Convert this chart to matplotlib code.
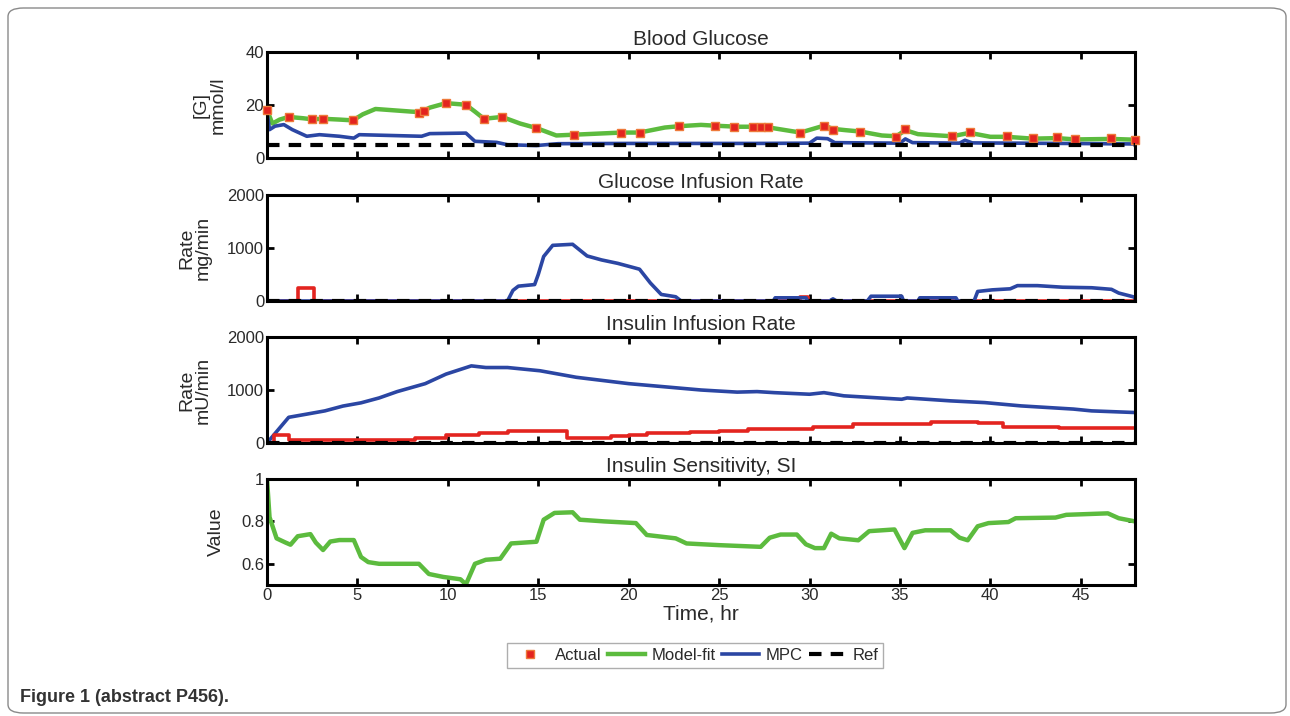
import matplotlib.pyplot as plt
from matplotlib.patches import FancyBboxPatch

plt.rcParams['font.family'] = ['Liberation Sans', 'DejaVu Sans']

# Blood glucose (mmol/l)
bg_actual_t = [0, 1.2, 2.5, 3.1, 4.75, 8.4, 8.7, 9.9, 11.0, 12.0, 13.0, 14.9, 17.0, 19.6, 20.6,
               22.8, 24.75, 25.8, 26.9, 27.3, 27.7, 29.5, 30.8, 31.3, 32.8, 34.8, 35.3, 37.9,
               38.85, 40.9, 42.35, 43.7, 44.7, 46.7, 48.0]
bg_actual_v = [18, 15.5, 14.6, 14.7, 14.2, 17.0, 17.6, 20.7, 20.1, 14.8, 15.5, 11.3, 8.8, 9.4, 9.4,
               12.0, 12.2, 11.7, 11.7, 11.7, 11.7, 9.4, 12.2, 10.7, 10.0, 7.9, 10.9, 8.2,
               9.7, 8.2, 7.5, 7.9, 7.3, 7.5, 6.9]
bg_fit_t = [0, 0.3, 0.7, 1.2, 2.0, 2.5, 3.1, 4.0, 4.75, 5.3, 6.0, 7.0, 8.0, 8.5, 9.0, 9.9, 11.0,
            11.5, 12.0, 13.0, 14.0, 14.9, 16.0, 17.0, 19.6, 20.6, 22.0, 22.8, 24.0, 24.75, 26.0,
            27.5, 29.5, 30.8, 31.3, 32.0, 32.8, 34.0, 34.8, 35.3, 36.0, 37.9, 38.85, 40.0, 40.9,
            42.35, 43.7, 44.7, 46.7, 48.0]
bg_fit_v = [18, 13, 14.5, 15.5, 15.0, 14.6, 14.8, 14.5, 14.2, 16.5, 18.5, 18.0, 17.5, 17.3, 19.0,
            20.7, 20.1, 17.5, 14.8, 15.5, 13.0, 11.3, 8.5, 8.8, 9.6, 9.6, 11.5, 12.0, 12.5, 12.2,
            11.8, 11.8, 9.6, 12.2, 11.0, 10.5, 10.0, 8.5, 8.2, 10.5, 9.0, 8.2, 9.5, 8.0, 8.0,
            7.3, 7.5, 7.0, 7.2, 6.9]
bg_mpc_t = [0, 0.14, 0.44, 0.93, 1.4, 2.2, 2.9, 4.0, 4.8, 5.1, 8.55, 9.0, 11.0, 11.5, 12.7, 13.3,
            14.9, 16.1, 20.0, 27.0, 30.0, 30.4, 31.0, 31.4, 35.0, 35.3, 35.7, 38.3, 38.6, 39.0,
            44.0, 48.0]
bg_mpc_v = [17.5, 10.7, 12.0, 12.6, 10.7, 8.2, 8.8, 8.2, 7.5, 8.8, 8.2, 9.2, 9.4, 6.3, 5.9, 5.0,
            4.7, 5.4, 5.5, 5.5, 5.6, 7.5, 7.3, 5.8, 5.6, 7.2, 5.8, 5.6, 6.7, 5.7,
            5.5, 5.3]
bg_ref = 5.0

# Glucose infusion rate (mg/min)
gir_actual_t = [0, 1.7, 2.6, 29.5, 29.9, 48]
gir_actual_v = [0, 250, 0, 80, 0, 0]
gir_mpc_t = [0, 13.3, 13.6, 13.9, 14.8, 15.0, 15.3, 15.8, 16.9, 17.7, 18.5, 19.4, 20.6, 21.2, 21.8,
             22.6, 22.9, 28.0, 28.1, 29.8, 29.9, 31.1, 31.3, 31.5, 33.2, 33.4, 35.1, 35.2, 36.0,
             36.1, 38.1, 38.2, 39.1, 39.3, 40.1, 41.1, 41.5, 42.6, 44.0, 45.6, 46.7, 47.1, 47.9, 48]
gir_mpc_v = [0, 0, 200, 280, 310, 500, 840, 1050, 1070, 850, 775, 710, 600, 340, 124,
             80, 0, 0, 60, 60, 0, 0, 40, 0, 0, 90, 90, 0, 0,
             60, 60, 0, 0, 180, 210, 230, 290, 290, 260, 250, 220, 150, 80, 60]

# Insulin infusion rate (mU/min)
iir_actual_t = [0, 0.4, 1.2, 8.2, 9.9, 11.7, 13.3, 16.6, 19.0, 20.0, 21.0, 23.4, 25.0, 26.6,
                30.2, 32.4, 36.7, 39.3, 40.7, 43.8, 48]
iir_actual_v = [0, 150, 50, 90, 150, 195, 225, 100, 130, 150, 180, 210, 235, 260,
                310, 355, 390, 370, 300, 290, 290]
iir_mpc_t = [0, 1.2, 2.2, 3.2, 4.2, 5.2, 6.2, 7.2, 8.75, 9.9, 11.3, 12.1, 13.3, 15.1, 17.1, 20.0,
             22.0, 24.0, 26.0, 27.1, 28.05, 30.0, 30.8, 31.9, 35.1, 35.4, 37.8, 39.7, 41.7, 44.6,
             45.6, 48.0]
iir_mpc_v = [0, 485, 545, 606, 697, 758, 850, 970, 1120, 1300, 1455, 1424, 1424, 1363, 1240, 1120,
             1060, 1000, 960, 970, 950, 920, 950, 890, 825, 850, 795, 762, 700, 640,
             606, 575]

# Insulin sensitivity
si_t = [0, 0.14, 0.53, 1.03, 1.3, 1.7, 2.4, 2.7, 3.1, 3.5, 4.0, 4.8, 5.2, 5.6, 6.2, 8.4, 8.95, 9.75,
        10.7, 11.0, 11.5, 12.1, 12.9, 13.5, 14.9, 15.3, 15.9, 16.9, 17.3, 18.65, 20.4, 21.0, 22.6,
        23.2, 25.0, 27.3, 27.8, 28.4, 29.3, 29.8, 30.3, 30.8, 31.2, 31.65, 32.7, 33.3, 34.7, 35.25,
        35.7, 36.4, 37.8, 38.3, 38.75, 39.3, 39.9, 41.0, 41.4, 43.6, 44.2, 46.5, 47.1, 48.0]
si_v = [1.0, 0.82, 0.72, 0.70, 0.69, 0.73, 0.74, 0.70, 0.665, 0.705, 0.712, 0.712, 0.632, 0.608,
        0.60, 0.60, 0.552, 0.538, 0.527, 0.503, 0.60, 0.619, 0.624, 0.696, 0.704, 0.808, 0.84,
        0.843, 0.808, 0.80, 0.792, 0.736, 0.72, 0.696, 0.688, 0.68, 0.723, 0.738, 0.738, 0.692,
        0.674, 0.674, 0.742, 0.72, 0.711, 0.754, 0.762, 0.674, 0.746, 0.758, 0.758, 0.723, 0.711,
        0.777, 0.792, 0.797, 0.815, 0.818, 0.831, 0.838, 0.815, 0.80]

titles = ['Blood Glucose', 'Glucose Infusion Rate', 'Insulin Infusion Rate', 'Insulin Sensitivity, SI']
ylabels = ['[G]\nmmol/l', 'Rate\nmg/min', 'Rate\nmU/min', 'Value']
ylims = [(0, 40), (0, 2000), (0, 2000), (0.5, 1.0)]
yticks = [[0, 20, 40], [0, 1000, 2000], [0, 1000, 2000], [0.6, 0.8, 1]]
yticklabels = [['0', '20', '40'], ['0', '1000', '2000'], ['0', '1000', '2000'], ['0.6', '0.8', '1']]
ylabel_x = [-0.047, -0.064, -0.064, -0.048]

RED = '#e3241f'
GREEN = '#5cbb3e'
BLUE = '#2b46a3'
TXT = '#2a2a2a'

W, H = 1290, 716
fig = plt.figure(figsize=(W / 100, H / 100), dpi=100)

# rounded frame around the figure
frame = FancyBboxPatch((8 / W, 3 / H), 1278 / W, 705 / H,
                       boxstyle='round,pad=0,rounding_size=0.012',
                       transform=fig.transFigure, fill=False, ec='#8a8a8a', lw=1.0)
fig.patches.append(frame)

left, width = 267 / W, 868 / W
tops = [52, 195, 337, 479]
hgt = 106
axes = []
for i, top in enumerate(tops):
    ax = fig.add_axes([left, 1 - (top + hgt) / H, width, hgt / H])
    axes.append(ax)

lw = 2.6
# Panel 1
ax = axes[0]
h_fit, = ax.plot(bg_fit_t, bg_fit_v, color=GREEN, lw=3.2, label='Model-fit')
h_mpc, = ax.plot(bg_mpc_t, bg_mpc_v, color=BLUE, lw=lw, label='MPC')
h_act, = ax.plot(bg_actual_t, bg_actual_v, ls='none', marker='s', ms=5.5, mfc=RED,
                 mec='#ee7a3a', mew=1.0, label='Actual', clip_on=False, zorder=4)
h_ref, = ax.plot([0, 48], [bg_ref, bg_ref], color='black', ls=(0, (3, 2.2)), lw=3.0,
                 label='Ref', zorder=5)

# Panel 2
ax = axes[1]
ax.plot(gir_actual_t, gir_actual_v, color=RED, lw=lw, drawstyle='steps-post')
ax.plot(gir_mpc_t, gir_mpc_v, color=BLUE, lw=lw)
ax.plot([0, 48], [0, 0], color='black', ls=(0, (3, 2.2)), lw=3.0, zorder=5)

# Panel 3
ax = axes[2]
ax.plot(iir_mpc_t, iir_mpc_v, color=BLUE, lw=lw)
ax.plot(iir_actual_t, iir_actual_v, color=RED, lw=lw, drawstyle='steps-post')
ax.plot([0, 48], [0, 0], color='black', ls=(0, (3, 2.2)), lw=3.0, zorder=5)

# Panel 4
ax = axes[3]
ax.plot(si_t, si_v, color=GREEN, lw=3.2)

for i, ax in enumerate(axes):
    ax.set_xlim(0, 48)
    ax.set_ylim(*ylims[i])
    ax.set_xticks(range(0, 46, 5))
    ax.set_yticks(yticks[i])
    ax.set_yticklabels(yticklabels[i])
    ax.tick_params(direction='in', top=True, right=True, length=5, width=2.0,
                   labelsize=12, colors='black', labelcolor=TXT, pad=2)
    for s in ax.spines.values():
        s.set_linewidth(2.2)
    ax.set_title(titles[i], fontsize=15, color=TXT, pad=5)
    ax.set_ylabel(ylabels[i], fontsize=14, color=TXT, linespacing=0.95)
    ax.yaxis.set_label_coords(ylabel_x[i], 0.5)
    if i < 3:
        ax.tick_params(labelbottom=False)

axes[3].set_xlabel('Time, hr', fontsize=15, color=TXT, labelpad=1)

leg = fig.legend([h_act, h_fit, h_mpc, h_ref], ['Actual', 'Model-fit', 'MPC', 'Ref'],
                 loc='center', bbox_to_anchor=(695 / W, 1 - 655 / H), ncol=4,
                 fontsize=12, frameon=True, fancybox=False, edgecolor='#9a9a9a',
                 handlelength=2.2, handletextpad=0.4, columnspacing=0.4,
                 borderpad=0.3, markerscale=1.0)
for t in leg.get_texts():
    t.set_color(TXT)

fig.text(20 / W, 1 - 697 / H, 'Figure 1 (abstract P456).', fontsize=13, fontweight='bold',
         family=['Liberation Sans Narrow', 'Liberation Sans', 'DejaVu Sans'],
         color='#333333', ha='left', va='center')

fig.savefig('out.png', dpi=100)
